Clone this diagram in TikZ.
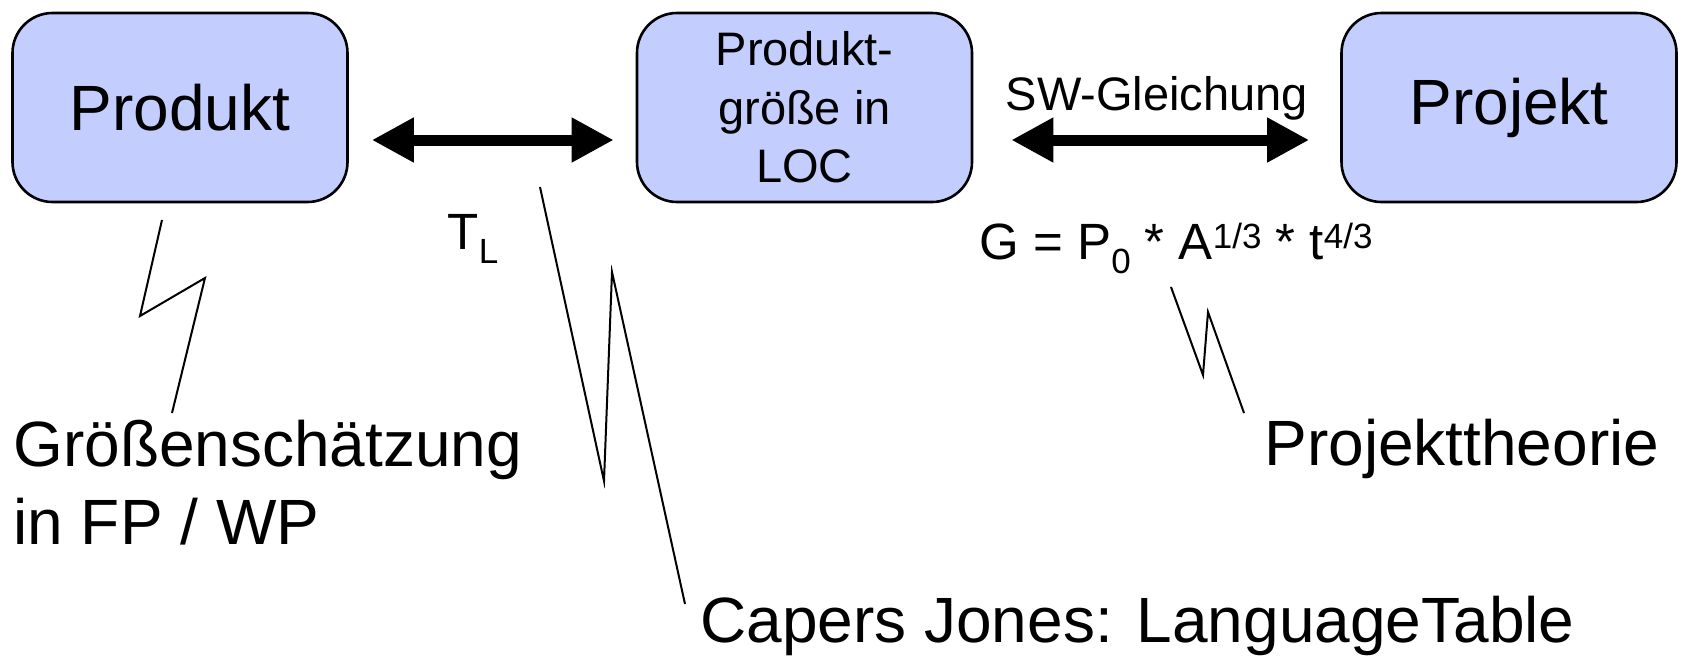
\documentclass[tikz,border=0pt]{standalone}
\usepackage{fontspec}
\setmainfont{Liberation Sans}
\usetikzlibrary{arrows.meta}

\definecolor{boxblue}{RGB}{195,206,255}

% small raised / lowered text for indices
\newcommand{\lowtext}[1]{\raisebox{-7pt}{\fontsize{17.5}{17.5}\selectfont #1}}
\newcommand{\hightext}[1]{\raisebox{5.5pt}{\fontsize{17.5}{17.5}\selectfont #1}}

\tikzset{
  block/.style={draw=black, line width=1.3pt, fill=boxblue, rounded corners=20pt,
    minimum width=167.5pt, minimum height=94.5pt, inner sep=0pt, align=center},
  bigtext/.style={font=\fontsize{32}{39}\selectfont, inner sep=0pt},
  midtext/.style={font=\fontsize{23.5}{29.25}\selectfont, inner sep=0pt},
  eqtext/.style={font=\fontsize{25.5}{30}\selectfont, inner sep=0pt},
  dblarrow/.style={line width=5.5pt,
    {Triangle[length=21pt,width=21pt]}-{Triangle[length=21pt,width=21pt]}},
  bolt/.style={line width=1pt, line join=miter},
}

\begin{document}
\begin{tikzpicture}[x=0.5pt, y=-0.5pt]
  \useasboundingbox (0, 0) rectangle (1686, 660);

  % the three boxes
  \node[block, bigtext] (prod) at (180, 107.5) {Produkt};
  \node[block, midtext] (loc) at (804.5, 107.5) {Produkt-\\größe in\\LOC};
  \node[block, bigtext] (proj) at (1509, 107.5) {Projekt};

  % arrows between them
  \draw[dblarrow, shorten <=11.5pt, shorten >=11pt]
    ([yshift=-16.25pt]prod.east) -- ([yshift=-16.25pt]loc.west);
  \draw[dblarrow, shorten <=19pt, shorten >=15.5pt]
    ([yshift=-16.25pt]loc.east) -- node[midtext, above=7pt] (swg) {SW-Gleichung}
    ([yshift=-16.25pt]proj.west);

  \node[eqtext, anchor=base] (tl) at (473, 249) {T\lowtext{L}};
  \node[eqtext, anchor=base] (geq) at (1176, 259)
    {G = P\lowtext{0} * A\hightext{1/3} * t\hightext{4/3}};

  % labels below
  \node[bigtext, anchor=base west, align=left] (size) at (13, 544)
    {Größenschätzung\\in FP / WP};
  \node[bigtext, anchor=base west] (capers) at (700, 642) {Capers Jones: LanguageTable};
  \node[bigtext, anchor=base west] (theory) at (1264, 465) {Projekttheorie};

  % lightning lines
  \coordinate (b1s) at (162, 220);
  \coordinate (b1e) at (172, 413);
  \coordinate (b2s) at (540, 187);
  \coordinate (b2e) at (685, 604);
  \coordinate (b3s) at (1171, 287);
  \coordinate (b3e) at (1244, 413);
  \draw[bolt] (b1s) -- (140, 316) -- (205, 278) -- (b1e);
  \draw[bolt] (b2s) -- (604, 481) -- (612, 272) -- (b2e);
  \draw[bolt] (b3s) -- (1203, 375) -- (1208, 312) -- (b3e);
\end{tikzpicture}
\end{document}
